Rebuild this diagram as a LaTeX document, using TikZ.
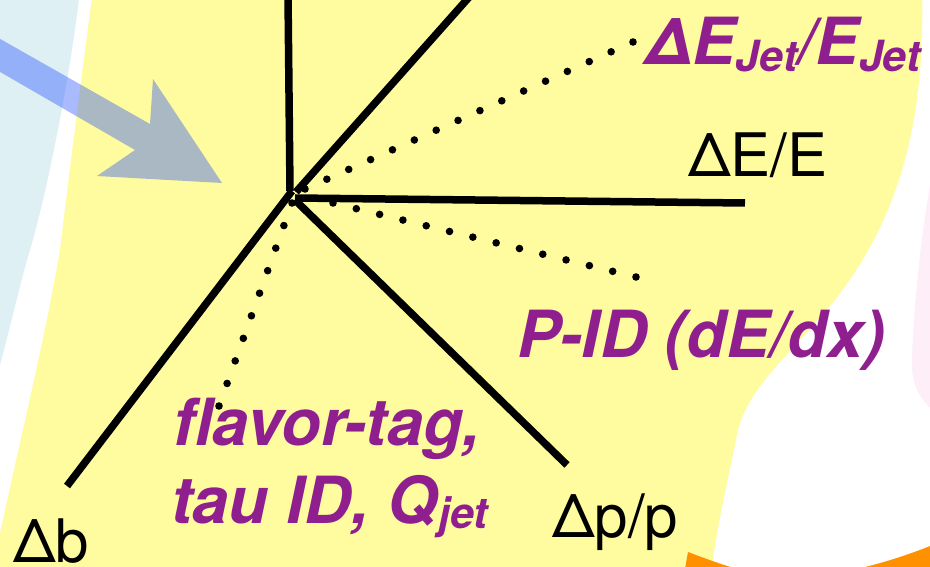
\documentclass[tikz,border=0pt]{standalone}
\usepackage{fontspec}
\setmainfont{TeX Gyre Heros}
\usetikzlibrary{calc}

\definecolor{padyellow}{RGB}{255,252,160}
\definecolor{padblue}{RGB}{223,240,244}
\definecolor{padpink}{RGB}{253,238,248}
\definecolor{padorange}{RGB}{255,144,0}
\definecolor{labelpurple}{RGB}{143,31,143}
\definecolor{beamblue}{RGB}{22,68,255}

\tikzset{
  axisline/.style={line width=7.5pt, black},
  dotmark/.style={fill=black},
  measure/.style={anchor=base west, inner sep=0pt, text=black,
    font=\fontsize{60}{60}\selectfont},
  physics/.style={anchor=base west, inner sep=0pt, text=labelpurple,
    font=\fontsize{65}{65}\bfseries\itshape\selectfont},
}
\newcommand{\subtxt}[2]{\raisebox{-#1pt}{\fontsize{43}{43}\selectfont #2}}

\begin{document}
\begin{tikzpicture}[x=1pt,y=-1pt]
  \useasboundingbox (0,0) rectangle (930,567);
  \clip (0,0) rectangle (930,567);
  \fill[white] (0,0) rectangle (930,567);

  % background regions
  \fill[padblue] (-10,-10) -- (80,-10) .. controls (70,80) and (45,200) .. (30,250)
      .. controls (18,290) and (8,340) .. (-10,400) -- cycle;
  \fill[padyellow] (93,-10) -- (922,-10) .. controls (925,110) and (905,210) .. (835,300)
      .. controls (790,355) and (750,385) .. (738,430)
      .. controls (728,480) and (716,530) .. (710,580) -- (-10,580)
      .. controls (15,460) and (45,340) .. (60,250)
      .. controls (72,150) and (85,50) .. (93,-10) -- cycle;
  \fill[padpink] (935,160) .. controls (922,220) and (912,320) .. (912,365)
      .. controls (912,385) and (920,400) .. (935,412) -- cycle;
  \fill[padorange] (688,552) .. controls (715,562) and (750,576) .. (785,577)
      .. controls (830,578) and (885,565) .. (940,542) -- (940,580) -- (683,580) -- cycle;

  % incoming beam arrow
  \fill[beamblue, fill opacity=0.37] (-5,36) -- (150,124) -- (153,79) -- (222,183)
      -- (97,176) -- (135,150) -- (-5,69) -- cycle;

  % vertex and axes
  \coordinate (vtop) at (290,191);
  \coordinate (vur)  at (296,192);
  \coordinate (vr)   at (295,198);
  \coordinate (vdr)  at (295,200);
  \coordinate (vdl)  at (292,191);
  \coordinate (etop) at (288,-5);
  \coordinate (eur)  at (471,-5);
  \coordinate (er)   at (745,203);
  \coordinate (edr)  at (567,465);
  \coordinate (edl)  at (67,486);
  \draw[axisline] (vtop) -- (etop);
  \draw[axisline] (vur) -- (eur);
  \draw[axisline] (vr) -- (er);
  \draw[axisline] (vdr) -- (edr);
  \draw[axisline] (vdl) -- (edl);

  % dotted guides
  \coordinate (djs) at (305,189);  \coordinate (dje) at (633,42);
  \coordinate (dps) at (333,203);  \coordinate (dpe) at (636,277);
  \coordinate (dfs) at (292,203);  \coordinate (dfe) at (219,406);
  \foreach \i in {0,...,15} \fill[dotmark] ($(djs)!\i/15!(dje)$) circle (3.8);
  \foreach \i in {0,...,13} \fill[dotmark] ($(dps)!\i/13!(dpe)$) circle (3.8);
  \foreach \i in {0,...,9}  \fill[dotmark] ($(dfs)!\i/9!(dfe)$) circle (3.8);

  % labels
  \node[measure] (lde) at (688,177) {ΔE/E};
  \node[measure] (ldp) at (552,537) {Δp/p};
  \node[measure] (ldb) at (13,562) {Δb};
  \node[physics] (ljet) at (645,65) {ΔE\subtxt{7}{Jet}/E\subtxt{7}{Jet}};
  \node[physics] (lpid) at (517,357) {P-ID (dE/dx)};
  \node[physics] (lfl1) at (173,445) {flavor-tag,};
  \node[physics] (lfl2) at (171,523) {tau ID, Q\subtxt{5}{jet}};
\end{tikzpicture}
\end{document}
